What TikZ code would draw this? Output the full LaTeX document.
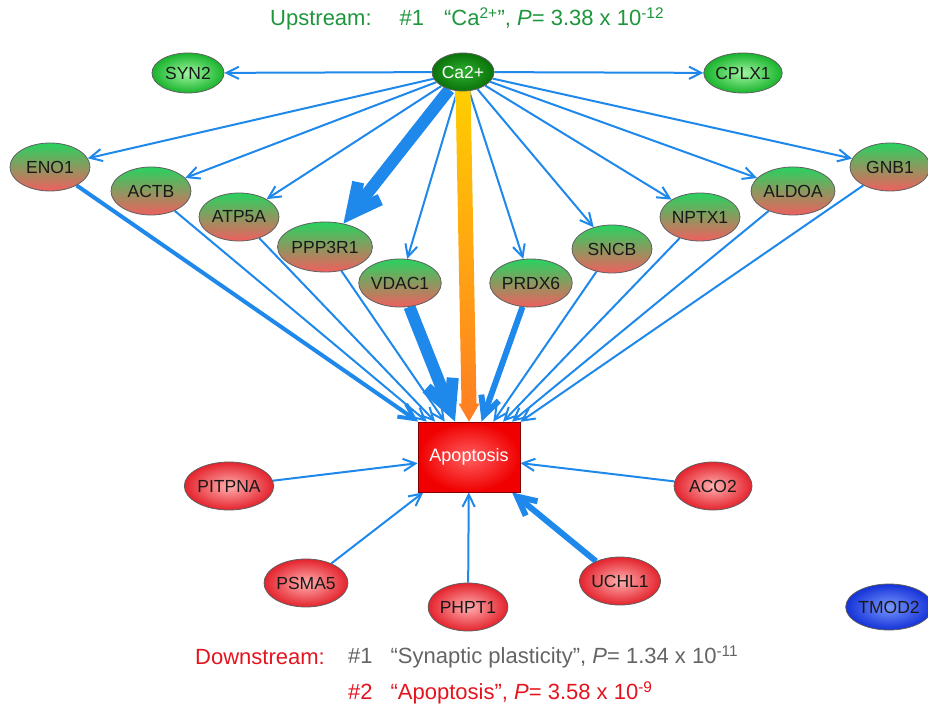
\documentclass[tikz,border=0pt]{standalone}
\usepackage{fontspec}
\setmainfont{Liberation Sans}
\usetikzlibrary{arrows.meta,calc,shapes.geometric}
\pgfdeclarelayer{bg}
\pgfsetlayers{bg,main}
\definecolor{edgeblue}{RGB}{30,136,235}
\definecolor{gtop}{RGB}{40,210,95}
\definecolor{gbot}{RGB}{240,95,95}
\definecolor{nodeborder}{RGB}{95,95,95}
\definecolor{lgin}{RGB}{160,245,160}
\definecolor{lgout}{RGB}{25,180,45}
\definecolor{cain}{RGB}{45,175,45}
\definecolor{caout}{RGB}{10,115,10}
\definecolor{rin}{RGB}{255,175,175}
\definecolor{rout}{RGB}{228,35,45}
\definecolor{bin}{RGB}{120,150,255}
\definecolor{bout}{RGB}{20,50,215}
\definecolor{apoin}{RGB}{255,95,95}
\definecolor{apoout}{RGB}{240,0,0}
\definecolor{apoborder}{RGB}{130,0,0}
\definecolor{gyellow}{RGB}{255,206,0}
\definecolor{gorange}{RGB}{255,125,35}
\definecolor{titlegreen}{RGB}{30,150,60}
\definecolor{dsred}{RGB}{228,20,30}
\definecolor{dsgray}{RGB}{100,100,100}
\begin{document}
\begin{tikzpicture}[x=1pt,y=-1pt,
  base/.style={ellipse, draw=nodeborder, line width=0.8pt, inner sep=0pt,
    minimum width=80pt, minimum height=48pt,
    font=\fontsize{17.5}{17.5}\selectfont, text=black!90},
  gene/.style={base, top color=gtop, bottom color=gbot},
  upgene/.style={base, minimum width=72pt, minimum height=40pt, inner color=lgin, outer color=lgout},
  downgene/.style={base, minimum width=78pt, inner color=rin, outer color=rout},
  lonegene/.style={base, minimum width=76pt, minimum height=46pt, inner color=bin, outer color=bout},
  hub/.style={base, minimum width=62pt, minimum height=38pt, inner color=cain, outer color=caout, text=white},
  term/.style={rectangle, draw=apoborder, line width=0.8pt, minimum width=102pt, minimum height=70pt,
    inner color=apoin, outer color=apoout, text=white, font=\fontsize{18}{18}\selectfont},
  edge/.style={draw=edgeblue, line width=2pt, -{Straight Barb[length=9pt 1.6, width=9pt 1.6]}},
  caption/.style={anchor=west, inner sep=0pt, font=\fontsize{22}{22}\selectfont}
]
\useasboundingbox (0,0) rectangle (928,711);

% nodes
\node[hub] (ca) at (463,72) {Ca2+};
\node[upgene] (syn2) at (188,73) {SYN2};
\node[upgene] (cplx1) at (743,73) {CPLX1};
\node[gene] (eno1) at (50,167) {ENO1};
\node[gene] (actb) at (151,191) {ACTB};
\node[gene] (atp5a) at (239,217) {ATP5A};
\node[gene, minimum width=83pt, minimum height=50pt] (ppp3r1) at (325,247) {PPP3R1};
\node[gene] (vdac1) at (400,283) {VDAC1};
\node[gene] (prdx6) at (531,283) {PRDX6};
\node[gene] (sncb) at (612,249) {SNCB};
\node[gene] (nptx1) at (700,217) {NPTX1};
\node[gene] (aldoa) at (793,191) {ALDOA};
\node[gene] (gnb1) at (890,167) {GNB1};
\node[term] (apo) at (469,457) {Apoptosis};
\node[downgene] (pitpna) at (229,486) {PITPNA};
\node[downgene] (aco2) at (713,486) {ACO2};
\node[downgene] (psma5) at (306,583) {PSMA5};
\node[downgene] (phpt1) at (468,607) {PHPT1};
\node[downgene] (uchl1) at (620,581) {UCHL1};
\node[lonegene] (tmod2) at (889,607) {TMOD2};

% captions
\node[caption, text=titlegreen] (up) at (270,19) {Upstream:\hspace{28pt}\#1\hspace{20pt}“Ca\textsuperscript{2+}”, \textit{P}= 3.38 x 10\textsuperscript{-12}};
\node[caption, text=dsred] (down) at (195,657) {Downstream:};
\node[caption, text=dsgray] (d1) at (348,657) {\#1\hspace{18pt}“Synaptic plasticity”, \textit{P}= 1.34 x 10\textsuperscript{-11}};
\node[caption, text=dsred] (d2) at (348,693) {\#2\hspace{18pt}“Apoptosis”, \textit{P}= 3.58 x 10\textsuperscript{-9}};

% edges
\begin{pgfonlayer}{bg}
\foreach \t in {syn2,cplx1,eno1,actb,atp5a,vdac1,prdx6,sncb,nptx1,aldoa,gnb1}
  \draw[edge] (ca) -- (\t);
\draw[edge, line width=12pt] (ca) -- (ppp3r1);
\foreach \s in {actb,atp5a,ppp3r1,sncb,nptx1,aldoa,gnb1,pitpna,aco2,psma5,phpt1}
  \draw[edge] (\s) -- (apo);
\draw[edge, line width=4pt] (eno1) -- (apo);
\draw[edge, line width=12pt] (vdac1) -- (apo);
\draw[edge, line width=6pt] (prdx6) -- (apo);
\draw[edge, line width=6pt] (uchl1) -- (apo);
\coordinate (gs) at (ca.south);
\coordinate (ge) at (apo.north);
\shade[top color=gyellow, bottom color=gorange]
  ($(gs)+(-7.5,-2)$) -- ($(gs)+(7.5,-2)$) -- ($(ge)+(7.5,-18)$) -- ($(ge)+(10.5,-18)$)
  -- (ge) -- ($(ge)+(-10.5,-18)$) -- ($(ge)+(-7.5,-18)$) -- cycle;
\end{pgfonlayer}
\end{tikzpicture}
\end{document}
